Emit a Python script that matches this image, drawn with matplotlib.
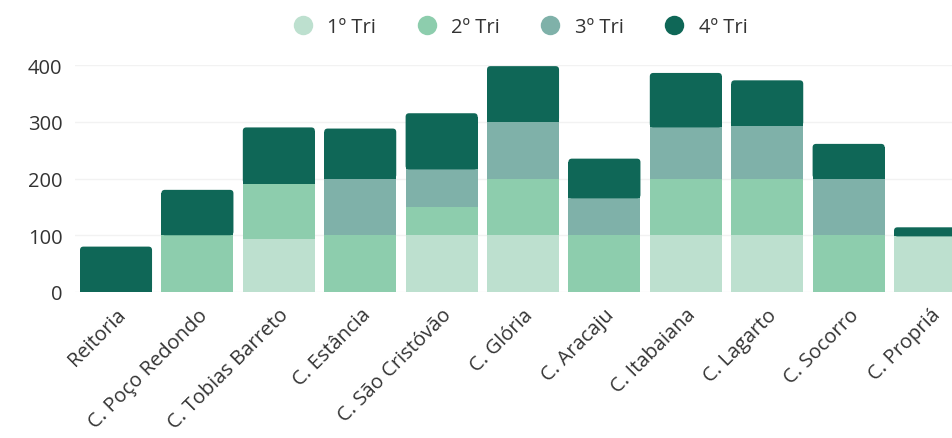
import matplotlib
matplotlib.use("Agg")
import matplotlib.pyplot as plt
from matplotlib.lines import Line2D
from matplotlib.patches import FancyBboxPatch
import matplotlib.transforms as mtransforms
import numpy as np

categories = ["Reitoria", "C. Poço Redondo", "C. Tobias Barreto", "C. Estância",
              "C. São Cristóvão", "C. Glória", "C. Aracaju", "C. Itabaiana",
              "C. Lagarto", "C. Socorro", "C. Propriá"]
series_names = ["1º Tri", "2º Tri", "3º Tri", "4º Tri"]
tri1 = [0, 0, 94, 0, 100, 100, 0, 100, 100, 0, 98]
tri2 = [0, 100, 97, 100, 50, 100, 100, 100, 100, 100, 0]
tri3 = [0, 0, 0, 100, 66, 100, 65, 90, 93, 100, 0]
tri4 = [80, 80, 99, 88, 99, 98, 70, 96, 80, 61, 16]
colors = ["#bde0cf", "#8dcdad", "#7fb1a9", "#0f6757"]
yticks = [0, 100, 200, 300, 400]

plt.rcParams['font.family'] = ['Open Sans', 'DejaVu Sans']
FS = 14.5

W, H = 952, 439
fig = plt.figure(figsize=(W/100, H/100), dpi=100)
ax_l, ax_r, ax_b, ax_t = 75, W, 293, 66
ax = fig.add_axes([ax_l/W, 1-ax_b/H, (ax_r-ax_l)/W, (ax_b-ax_t)/H])

xlim = (-0.504, 10.27)
ylim = (0, 400)
px_x = (ax_r-ax_l)/(xlim[1]-xlim[0])
px_y = (ax_b-ax_t)/(ylim[1]-ylim[0])
rad_px = 3.5
rx = rad_px/px_x
ry = rad_px/px_y

x = np.arange(len(categories))
bottom = np.zeros(len(categories))
series = [tri1, tri2, tri3, tri4]
for k, (vals, c) in enumerate(zip(series, colors)):
    v = np.array(vals, dtype=float)
    cont = ax.bar(x, v, bottom=bottom, width=0.885, color=c, edgecolor='none', zorder=2)
    if k == len(series) - 1:
        for rect in cont.patches:
            x0, y0 = rect.get_x(), rect.get_y()
            w, h = rect.get_width(), rect.get_height()
            if h <= 0:
                continue
            rect.set_height(max(h - ry, 0))
            fb = FancyBboxPatch((x0, y0), w, h,
                                boxstyle=f"round,pad=0,rounding_size={rx}",
                                mutation_aspect=ry/rx, facecolor=c,
                                edgecolor='none', zorder=2)
            ax.add_patch(fb)
    bottom += v

ax.set_xlim(*xlim)
ax.set_ylim(*ylim)
ax.set_yticks(yticks)
ax.set_yticklabels([str(t) for t in yticks], fontsize=FS, color='#333333')
ax.yaxis.grid(True, color='#f2f2f2', linewidth=1, zorder=0)
ax.set_xticks(x)
ax.set_xticklabels(categories, rotation=45, ha='right', rotation_mode='anchor',
                   fontsize=FS, color='#333333')
offset = mtransforms.ScaledTranslation(14/100, 0, fig.dpi_scale_trans)
for lbl in ax.get_xticklabels():
    lbl.set_transform(lbl.get_transform() + offset)
ax.tick_params(axis='y', length=0, pad=9)
ax.tick_params(axis='x', length=0, pad=9)
for s in ax.spines.values():
    s.set_visible(False)

handles = [Line2D([0], [0], marker='o', linestyle='none', markersize=14,
                  markerfacecolor=c, markeredgecolor='none') for c in colors]
fig.legend(handles, series_names, loc='center', bbox_to_anchor=(520/W, 1-28/H),
           ncol=4, frameon=False, fontsize=FS, handlelength=1.0, handletextpad=0.72,
           columnspacing=2.0, labelcolor='#333333')

fig.savefig("out.png", dpi=100)
